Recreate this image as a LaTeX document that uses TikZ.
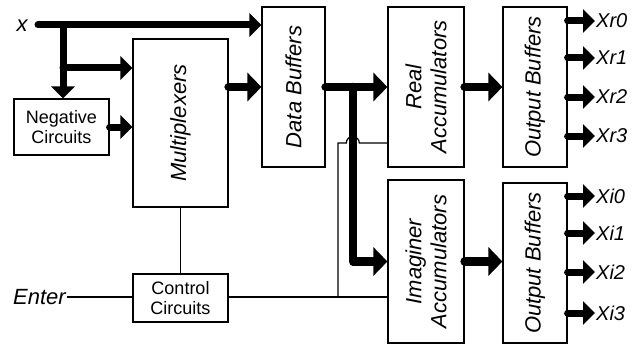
\documentclass[tikz,border=0pt]{standalone}
\usepackage{fontspec}
\setmainfont{Liberation Sans}
\usetikzlibrary{arrows.meta, positioning, calc}

\tikzset{
  blk/.style={draw, line width=1.2pt, inner sep=0pt},
  vt/.style={font=\fontsize{22}{25}\selectfont\itshape, align=center, rotate=90},
  ht/.style={font=\fontsize{18}{20}\selectfont, align=center},
  outlab/.style={font=\fontsize{20}{22}\selectfont\itshape, anchor=west, inner sep=1pt},
  bus/.style={line width=7pt, line cap=round, line join=round, -{Triangle[length=12pt, width=23pt]}},
  bigbus/.style={line width=8.5pt, line cap=round, line join=round, -{Triangle[length=14pt, width=28pt]}},
  wire/.style={line width=1.2pt}
}

\begin{document}
\begin{tikzpicture}[x=1pt, y=-1pt]
\useasboundingbox (0,0) rectangle (632,345);

% blocks
\node[blk, minimum width=95pt, minimum height=56pt] (neg) at (61.5,127) {};
\node[ht] (negt) at (neg.center) {Negative\\Circuits};
\node[blk, minimum width=95pt, minimum height=168pt] (mux) at (180.5,123) {};
\node[vt] (muxt) at (mux.center) {Multiplexers};
\node[blk, minimum width=95pt, minimum height=48pt] (cc) at (180.5,298) {};
\node[ht] (cct) at (cc.center) {Control\\Circuits};
\node[blk, minimum width=63pt, minimum height=160pt] (db) at (293.5,87) {};
\node[vt] (dbt) at (db.center) {Data Buffers};
\node[blk, minimum width=76pt, minimum height=160pt] (ra) at (426,87) {};
\node[vt] (rat) at (ra.center) {Real\\Accumulators};
\node[blk, minimum width=76pt, minimum height=163pt] (ia) at (426,261.5) {};
\node[vt] (iat) at (ia.center) {Imaginer\\Accumulators};
\node[blk, minimum width=64pt, minimum height=160pt] (ob1) at (535,87) {};
\node[vt] (ob1t) at (ob1.center) {Output Buffers};
\node[blk, minimum width=64pt, minimum height=160pt] (ob2) at (535,263) {};
\node[vt] (ob2t) at (ob2.center) {Output Buffers};

% inputs
\node[font=\fontsize{22}{24}\selectfont\itshape] (xin) at (22,26) {x};
\coordinate (xs) at (38,25);
\coordinate (br) at (63,25);
\coordinate (bm) at (63,68);
\node[font=\fontsize{22}{24}\selectfont\itshape, anchor=east, inner sep=1pt] (enter) at (67,297) {Enter};

% data path
\draw[bus] (xs) -- (xs -| db.west);
\draw[bus] (br) -- (br |- neg.north);
\draw[bus] (bm) -- (bm -| mux.west);
\draw[bus] (neg.east) -- (neg.east -| mux.west);
\draw[bigbus] (mux.east |- db) -- (db.west);
\draw[bigbus] (db.east) -- (ra.west);
\coordinate (tap) at ($(db.east)!0.44!(ra.west)$);
\draw[bigbus] (tap) |- (ia.west);
\draw[bigbus] (ra.east) -- (ob1.west);
\draw[bigbus] (ia.east) -- (ia.east -| ob2.west);

% outputs
\foreach \i/\yy in {0/21,1/58,2/97,3/136}{
  \node[outlab] (xr\i) at (595,\yy) {Xr\i};
  \draw[bus] (ob1.east |- xr\i) -- (xr\i.west);
}
\foreach \i/\yy in {0/196,1/233,2/272,3/313}{
  \node[outlab] (xi\i) at (595,\yy) {Xi\i};
  \draw[bus] (ob2.east |- xi\i) -- (xi\i.west);
}

% control
\coordinate (up) at (338,297);
\coordinate (j) at (338,143);
\draw[wire] (enter.east) -- (enter.east -| cc.west);
\draw[wire] (mux.south) -- (cc.north);
\draw[wire] (cc.east |- up) -- (up -| ia.west);
\draw[wire] (up) -- (j) -- ([xshift=-6.5pt]tap |- j) arc[start angle=180, end angle=0, radius=6.5pt] -- (j -| ra.west);
\end{tikzpicture}
\end{document}
